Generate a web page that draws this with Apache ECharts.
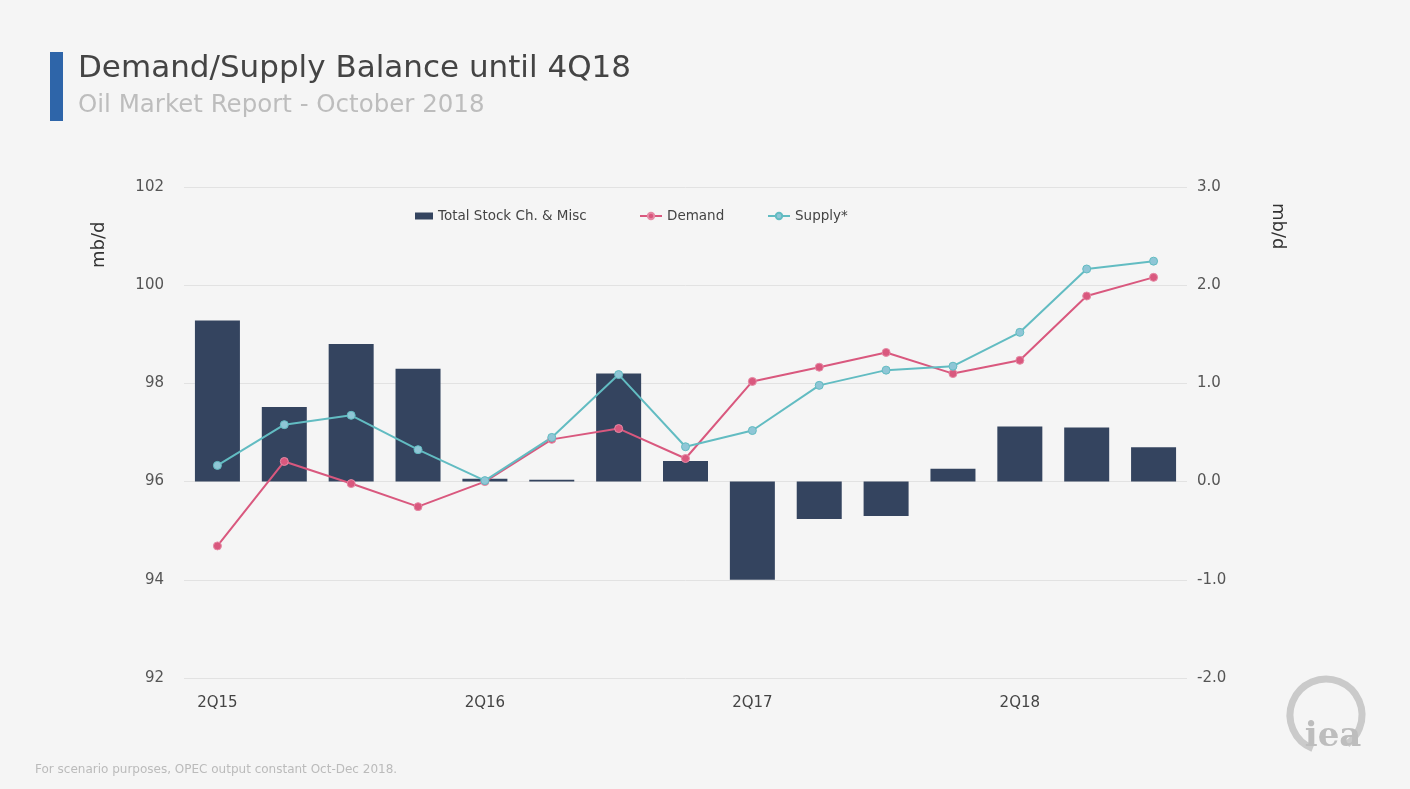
<!DOCTYPE html>
<html><head><meta charset="utf-8">
<script src="https://cdn.jsdelivr.net/npm/echarts@6/dist/echarts.min.js"></script>
<style>html,body{margin:0;padding:0;background:#f5f5f5;}#c{width:1410px;height:789px;}</style>
</head><body><div id="c"></div>
<script>
const categories = ['2Q15','3Q15','4Q15','1Q16','2Q16','3Q16','4Q16','1Q17','2Q17','3Q17','4Q17','1Q18','2Q18','3Q18','4Q18'];
const stockChange = [1.64, 0.76, 1.40, 1.15, 0.03, 0.02, 1.10, 0.21, -1.00, -0.38, -0.35, 0.13, 0.56, 0.55, 0.35];
const demand = [94.69, 96.41, 95.96, 95.49, 96.00, 96.86, 97.08, 96.47, 98.04, 98.33, 98.63, 98.20, 98.47, 99.78, 100.16];
const supply = [96.33, 97.16, 97.35, 96.65, 96.02, 96.90, 98.18, 96.71, 97.04, 97.96, 98.27, 98.35, 99.04, 100.33, 100.49];
const leftTicks = [92, 102, 2];
const rightTicks = [-2, 3, 1];

const FONT = 'DejaVu Sans';
const legendText = {fontSize: 13.5, color: '#444', fontFamily: FONT};
const chart = echarts.init(document.getElementById('c'));
chart.setOption({
  backgroundColor: '#f5f5f5',
  textStyle: {fontFamily: FONT},
  animation: false,
  legend: [
    {top: 204, left: 410, itemWidth: 18, itemHeight: 7, itemGap: 0, textStyle: legendText,
     data: [{name: 'Total Stock Ch. & Misc', icon: 'rect'}]},
    {top: 204, left: 634, itemWidth: 22, itemHeight: 8, textStyle: legendText, data: ['Demand']},
    {top: 204, left: 762, itemWidth: 22, itemHeight: 8, textStyle: legendText, data: ['Supply*']}
  ],
  grid: {left: 184, right: 223, top: 187, bottom: 111},
  xAxis: {
    type: 'category', data: categories, boundaryGap: true,
    axisLine: {show: false}, axisTick: {show: false},
    axisLabel: {interval: 3, color: '#444', fontSize: 15, margin: 18}
  },
  yAxis: [
    {type: 'value', min: leftTicks[0], max: leftTicks[1], interval: leftTicks[2],
     axisLine: {show: false}, axisTick: {show: false},
     splitLine: {lineStyle: {color: '#e2e2e2', width: 1}},
     axisLabel: {color: '#555', fontSize: 15, margin: 20}},
    {type: 'value', min: rightTicks[0], max: rightTicks[1], interval: rightTicks[2],
     axisLine: {show: false}, axisTick: {show: false}, splitLine: {show: false},
     axisLabel: {color: '#555', fontSize: 15, margin: 10, formatter: v => v.toFixed(1)}}
  ],
  series: [
    {name: 'Total Stock Ch. & Misc', type: 'bar', yAxisIndex: 1, data: stockChange,
     barWidth: 45, itemStyle: {color: '#34445f'}},
    {name: 'Demand', type: 'line', yAxisIndex: 0, data: demand,
     symbol: 'circle', symbolSize: 8, lineStyle: {color: '#d9587e', width: 2},
     itemStyle: {color: '#d9587e', borderColor: '#e68aa5', borderWidth: 1}},
    {name: 'Supply*', type: 'line', yAxisIndex: 0, data: supply,
     symbol: 'circle', symbolSize: 8, lineStyle: {color: '#62bcc2', width: 2},
     itemStyle: {color: '#8fc6d6', borderColor: '#62bcc2', borderWidth: 1}}
  ],
  graphic: [
    {type: 'rect', shape: {x: 50, y: 52, width: 13, height: 69}, style: {fill: '#2e65a9'}},
    {type: 'text', left: 78, top: 53, style: {text: 'Demand/Supply Balance until 4Q18', fontSize: 31, fill: '#444', fontFamily: FONT}},
    {type: 'text', left: 78, top: 93, style: {text: 'Oil Market Report - October 2018', fontSize: 24.5, fill: '#bdbdbd', fontFamily: FONT}},
    {type: 'text', x: 108, y: 268, rotation: Math.PI/2, style: {text: 'mb/d', fontSize: 18, fill: '#333', fontFamily: FONT, align: 'left', verticalAlign: 'bottom'}},
    {type: 'text', x: 1287, y: 203, rotation: -Math.PI/2, style: {text: 'mb/d', fontSize: 18, fill: '#333', fontFamily: FONT}},
    {type: 'text', left: 35, top: 764, style: {text: 'For scenario purposes, OPEC output constant Oct-Dec 2018.', fontSize: 12, fill: '#bbb', fontFamily: FONT}},
    {type: 'arc', shape: {cx: 1326, cy: 715, r: 36, startAngle: Math.PI*0.62, endAngle: Math.PI*2.3}, style: {stroke: '#cacaca', lineWidth: 7, fill: null}},
    {type: 'text', x: 1333, y: 737, style: {text: 'iea', fontSize: 34, fontWeight: 'bold', fill: '#bdbdbd', fontFamily: 'DejaVu Serif', align: 'center', verticalAlign: 'middle'}}
  ]
});
</script></body></html>
